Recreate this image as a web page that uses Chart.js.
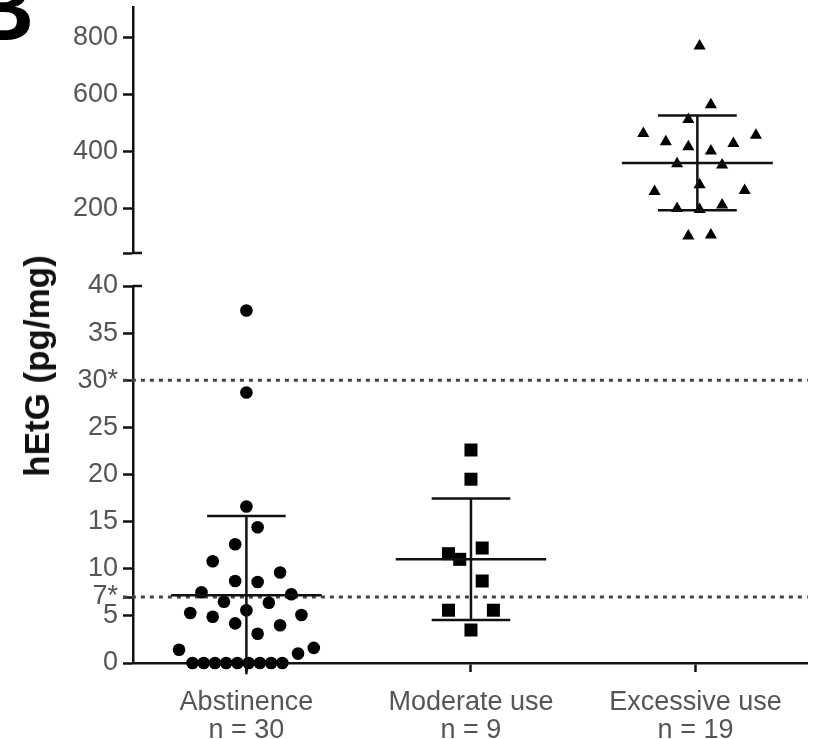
<!DOCTYPE html>
<html>
<head>
<meta charset="utf-8">
<script src="https://cdn.jsdelivr.net/npm/chart.js@4.4.0/dist/chart.umd.min.js"></script>
<style>
  body { margin: 0; background: #fff; width: 817px; height: 739px; overflow: hidden; position: relative; font-family: 'Liberation Sans', Arial, sans-serif; }
  #topBox { position: absolute; left: 0; top: 0; }
  #bottomBox { position: absolute; left: 0; top: 270px; }
  #yTitle { position: absolute; left: 37px; top: 366px; transform: translate(-50%, -50%) rotate(-90deg); font-weight: bold; font-size: 35px; white-space: nowrap; color: #111; }
  #panel { position: absolute; left: -31px; top: -36px; font-size: 90px; font-weight: bold; line-height: 1; color: #000; }
</style>
</head>
<body>
<div id="panel">B</div>
<div id="topBox"><canvas id="topChart" width="817" height="260"></canvas></div>
<div id="bottomBox"><canvas id="bottomChart" width="817" height="469"></canvas></div>
<div id="yTitle">hEtG (pg/mg)</div>
<script>
// Data
const categories = ['Abstinence', 'Moderate use', 'Excessive use'];
const groupN = [30, 9, 19];

const abstinenceValues = [37.4, 28.7, 16.6, 14.4, 12.6, 10.8, 9.6, 8.7, 8.6, 7.5, 7.3, 6.5, 6.4, 5.6, 5.3, 5.1, 4.9, 4.2, 4.0, 3.1, 1.4, 1.6, 1.0, 0, 0, 0, 0, 0, 0, 0, 0, 0];
const abstinenceJitter = [0, 0, 0, 0.05, -0.05, -0.15, 0.15, -0.05, 0.05, -0.2, 0.2, -0.1, 0.1, 0, -0.25, 0.245, -0.15, -0.05, 0.15, 0.05, -0.3, 0.3, 0.23, -0.24, -0.19, -0.14, -0.09, -0.04, 0.01, 0.06, 0.11, 0.16];

const moderateValues = [22.6, 19.5, 12.2, 11.6, 11.0, 8.7, 5.6, 5.6, 3.5];
const moderateJitter = [0, 0, 0.05, -0.1, -0.05, 0.05, -0.1, 0.1, 0];

const excessiveValues = [770, 564, 512, 463, 457, 434, 428, 417, 402, 357, 353, 283, 263, 260, 212, 200, 197, 107, 104];
const excessiveJitter = [0.01, 0.06, -0.04, -0.24, 0.26, -0.14, 0.16, -0.04, 0.06, -0.09, 0.11, 0.01, 0.21, -0.19, 0.11, -0.09, 0.01, 0.06, -0.04];

const groupMean = [7.2, 11.0, 360];
const groupSD = [8.4, 6.45, 166];
const thresholds = [7, 30];

const lowerTicks = [0, 5, 7, 10, 15, 20, 25, 30, 35, 40];
const upperTicks = [200, 400, 600, 800];

// Styling
const xMin = 0.495, xMax = 3.5;
const lowerMin = 0, lowerMax = 40;
const upperMin = 44, upperMax = 907;
const meanHalf = 0.335, capHalf = 0.175;
const ink = '#111';
const labelColor = '#555';
const fontFamily = "'Liberation Sans', Arial, sans-serif";
const tickFont = { family: fontFamily, size: 27, lineHeight: 1.05 };

function points(values, jitter, group) {
    return values.map((v, i) => ({ x: group + jitter[i], y: v }));
}

function segment(x1, y1, x2, y2, extra) {
    return Object.assign({
        data: [{ x: x1, y: y1 }, { x: x2, y: y2 }],
        showLine: true,
        borderColor: ink,
        borderWidth: 2.5,
        pointRadius: 0,
        clip: false
    }, extra || {});
}

// Mean line + SD bar for one group
function errorBars(i) {
    const g = i + 1, m = groupMean[i], s = groupSD[i];
    const out = [
        segment(g - meanHalf, m, g + meanHalf, m),
        segment(g, m - s, g, m + s),
        segment(g - capHalf, m + s, g + capHalf, m + s)
    ];
    if (m - s >= 0) out.push(segment(g - capHalf, m - s, g + capHalf, m - s));
    return out;
}

function scatterSet(data, style, radius) {
    return {
        data: data,
        pointStyle: style,
        pointRadius: radius,
        pointHoverRadius: radius,
        pointBackgroundColor: '#000',
        pointBorderWidth: 0,
        clip: false
    };
}

// no extra label padding at the axis ends
function noEdgePadding(s) {
    s.paddingTop = 0;
    s.paddingBottom = 0;
    s.paddingLeft = 0;
    s.paddingRight = 0;
}

function yScale(min, max, tickList, labelFn) {
    return {
        min: min,
        max: max,
        afterBuildTicks: s => { s.ticks = tickList.map(v => ({ value: v })); },
        afterFit: s => { s.width = 133; noEdgePadding(s); },
        ticks: { callback: labelFn, font: tickFont, color: labelColor, padding: 5 },
        grid: { drawOnChartArea: false, tickLength: 10, tickColor: ink, tickWidth: 2.5 },
        border: { color: ink, width: 2.5 }
    };
}

const commonPlugins = { legend: { display: false }, tooltip: { enabled: false } };

// Upper panel: excessive use
new Chart(document.getElementById('topChart'), {
    type: 'scatter',
    data: {
        datasets: [
            ...errorBars(2),
            segment(xMin, upperMin, xMin + 0.04, upperMin),
            scatterSet(points(excessiveValues, excessiveJitter, 3), 'triangle', 7)
        ]
    },
    options: {
        responsive: false,
        animation: false,
        layout: { padding: { top: 7, bottom: 4, left: 0, right: 7 } },
        plugins: commonPlugins,
        scales: {
            x: { type: 'linear', min: xMin, max: xMax, display: false },
            y: yScale(upperMin, upperMax, [upperMin, ...upperTicks], v => v === upperMin ? '' : v)
        }
    }
});

// Lower panel: abstinence and moderate use
const thresholdSets = thresholds.map(t => segment(xMin - 0.045, t, xMax, t, {
    borderColor: '#444', borderWidth: 3, borderDash: [4, 5]
}));

new Chart(document.getElementById('bottomChart'), {
    type: 'scatter',
    data: {
        datasets: [
            ...errorBars(0),
            ...errorBars(1),
            segment(xMin, lowerMax, xMin + 0.04, lowerMax),
            scatterSet(points(abstinenceValues, abstinenceJitter, 1), 'circle', 6.3),
            scatterSet(points(moderateValues, moderateJitter, 2), 'rect', 9.2),
            ...thresholdSets
        ]
    },
    options: {
        responsive: false,
        animation: false,
        layout: { padding: { top: 16, bottom: 0, left: 0, right: 7 } },
        plugins: commonPlugins,
        scales: {
            x: {
                type: 'linear',
                min: xMin,
                max: xMax,
                afterBuildTicks: s => { s.ticks = [1, 2, 3].map(v => ({ value: v })); },
                afterFit: s => { s.height = 76; noEdgePadding(s); },
                ticks: {
                    callback: v => [categories[v - 1], 'n = ' + groupN[v - 1]],
                    font: tickFont,
                    color: labelColor,
                    padding: 16,
                    maxRotation: 0
                },
                grid: { drawOnChartArea: false, tickLength: 9, tickColor: ink, tickWidth: 2.5 },
                border: { color: ink, width: 2.5 }
            },
            y: yScale(lowerMin, lowerMax, lowerTicks, v => (thresholds.includes(v) ? v + '*' : v))
        }
    }
});
</script>
</body>
</html>
